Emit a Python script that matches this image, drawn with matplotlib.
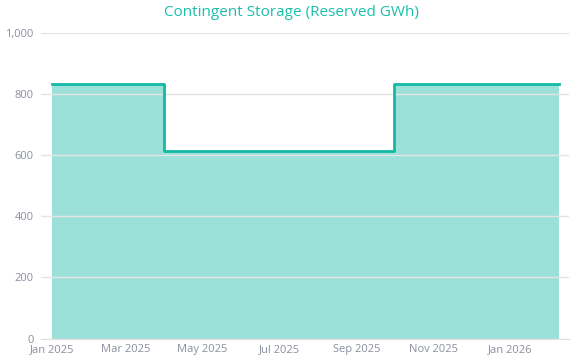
import matplotlib
matplotlib.use("Agg")
import matplotlib.pyplot as plt
import matplotlib.dates as mdates
import numpy as np

# Data
dates = np.array(["2025-01-01", "2025-03-31", "2025-09-30", "2026-02-09"], dtype="datetime64[D]")
reserved_gwh = [833, 613, 833, 833]
title = "Contingent Storage (Reserved GWh)"

LINE = "#14b8a6"
TEXT = "#8a8f9e"

plt.rcParams["font.family"] = ["Open Sans", "DejaVu Sans"]

fig = plt.figure(figsize=(5.82, 3.62), dpi=100)
ax = fig.add_axes([0.0699, 0.0649, 0.9083, 0.8434])

# grid sits under a see-through fill, like the original
ax.grid(axis="y", color="#e4e4e4", linewidth=1, zorder=0)
ax.fill_between(dates, reserved_gwh, step="post", color=LINE, alpha=0.42, linewidth=0, zorder=1)
ax.step(dates, reserved_gwh, where="post", color=LINE, linewidth=2, zorder=2)

ax.set_ylim(0, 1000)
ax.set_xlim(np.datetime64("2024-12-23"), np.datetime64("2026-02-17"))
ax.set_yticks([0, 200, 400, 600, 800, 1000])
ax.yaxis.set_major_formatter(matplotlib.ticker.FuncFormatter(lambda v, p: f"{int(v):,}"))
ax.xaxis.set_major_locator(mdates.MonthLocator(bymonth=[1, 3, 5, 7, 9, 11]))
ax.xaxis.set_major_formatter(mdates.DateFormatter("%b %Y"))

for s in ["top", "right", "left"]:
    ax.spines[s].set_visible(False)
ax.spines["bottom"].set_color("#e0e0e0")
ax.spines["bottom"].set_zorder(0)
ax.tick_params(length=0, labelsize=8, colors=TEXT, pad=5)
ax.tick_params(axis="x", pad=4)

fig.text(0.5, 0.965, title, ha="center", va="center", fontsize=11, color="#1bbfad")

fig.savefig("out.png", dpi=100)
